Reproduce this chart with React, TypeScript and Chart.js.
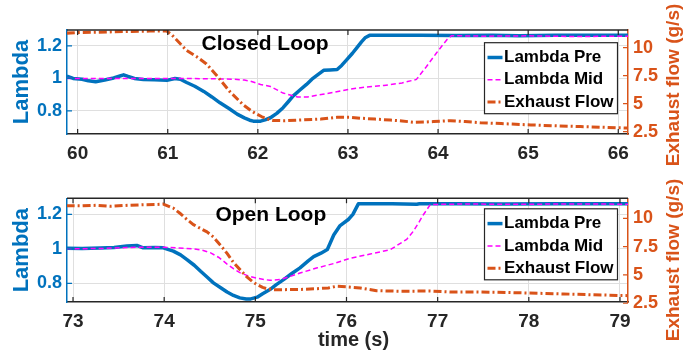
import React, { useEffect, useRef } from "react";
import { Chart, registerables } from "chart.js";

Chart.register(...registerables);

const FONT = '"Liberation Sans", Arial, Helvetica, sans-serif';
const BLUE = "#0072BD";
const ORANGE = "#D95319";
const MAGENTA = "#FF00FF";
const FRAME = "#262626";
const GRID = "#dfdfdf";

// Axis ticks
const closedTimeTicks = [60, 61, 62, 63, 64, 65, 66];
const openTimeTicks = [73, 74, 75, 76, 77, 78, 79];
const lambdaTicks = [0.8, 1, 1.2];
const flowTicks = [2.5, 5, 7.5, 10];

const seriesLabels = ["Lambda Pre", "Lambda Mid", "Exhaust Flow"];

// Closed loop run
const closedPreTime = [59.88, 59.95, 60.05, 60.12, 60.2, 60.3, 60.4, 60.47, 60.51, 60.56, 60.63, 60.73, 60.85, 60.99, 61.08, 61.14, 61.21, 61.3, 61.4, 61.49, 61.58, 61.68, 61.77, 61.85, 61.91, 61.95, 62.03, 62.08, 62.14, 62.21, 62.28, 62.34, 62.39, 62.47, 62.54, 62.6, 62.67, 62.73, 62.8, 62.88, 62.93, 62.99, 63.05, 63.1, 63.15, 63.19, 63.24, 63.5, 63.8, 64.2, 64.6, 64.9, 65.3, 65.7, 66.11];
const closedPreLambda = [1.014, 1.0, 0.995, 0.985, 0.98, 0.99, 1.003, 1.015, 1.022, 1.012, 1.0, 0.994, 0.992, 0.988, 1.0, 0.995, 0.975, 0.952, 0.92, 0.886, 0.85, 0.815, 0.78, 0.757, 0.743, 0.737, 0.737, 0.745, 0.758, 0.785, 0.82, 0.858, 0.891, 0.93, 0.963, 0.995, 1.025, 1.05, 1.052, 1.055, 1.08, 1.117, 1.155, 1.19, 1.225, 1.25, 1.265, 1.265, 1.265, 1.264, 1.265, 1.262, 1.265, 1.265, 1.265];

const closedMidTime = [59.88, 60.5, 61.0, 61.5, 61.73, 61.85, 61.92, 62.03, 62.14, 62.28, 62.44, 62.55, 62.66, 62.85, 63.03, 63.2, 63.4, 63.6, 63.76, 63.87, 63.98, 64.1, 64.15, 64.5, 65.0, 65.5, 66.11];
const closedMidLambda = [1.0, 1.0, 1.0, 0.998, 0.995, 0.99, 0.983, 0.963, 0.95, 0.91, 0.886, 0.886, 0.897, 0.915, 0.935, 0.947, 0.957, 0.972, 0.994, 1.072, 1.155, 1.24, 1.263, 1.26, 1.262, 1.258, 1.26];

const closedFlowTime = [59.88, 60.0, 60.2, 60.4, 60.6, 60.8, 60.99, 61.05, 61.1, 61.21, 61.32, 61.43, 61.55, 61.69, 61.84, 61.92, 61.98, 62.04, 62.1, 62.17, 62.3, 62.5, 62.7, 62.88, 63.03, 63.14, 63.3, 63.47, 63.6, 63.73, 63.85, 63.95, 64.14, 64.3, 64.47, 64.7, 65.03, 65.3, 65.58, 65.8, 66.11];
const closedFlow = [11.3, 11.35, 11.38, 11.42, 11.45, 11.48, 11.49, 11.1, 10.69, 9.75, 9.2, 8.55, 7.45, 6.07, 4.88, 4.4, 4.1, 3.85, 3.65, 3.5, 3.48, 3.55, 3.62, 3.78, 3.78, 3.7, 3.62, 3.54, 3.45, 3.34, 3.36, 3.4, 3.48, 3.4, 3.3, 3.22, 3.1, 3.02, 2.95, 2.9, 2.82];

// Open loop run
const openPreTime = [72.93, 73.1, 73.3, 73.45, 73.59, 73.7, 73.77, 73.9, 73.99, 74.1, 74.18, 74.25, 74.33, 74.4, 74.47, 74.54, 74.62, 74.69, 74.76, 74.83, 74.9, 74.95, 75.02, 75.08, 75.16, 75.23, 75.31, 75.4, 75.49, 75.58, 75.64, 75.72, 75.79, 75.86, 75.93, 76.02, 76.07, 76.13, 76.5, 76.77, 76.8, 77.2, 77.7, 78.3, 79.09];
const openPreLambda = [1.003, 1.002, 1.005, 1.008, 1.016, 1.02, 1.006, 1.008, 1.006, 0.987, 0.965, 0.938, 0.905, 0.87, 0.837, 0.803, 0.775, 0.75, 0.73, 0.716, 0.709, 0.71, 0.72, 0.74, 0.764, 0.793, 0.822, 0.857, 0.89, 0.93, 0.955, 0.975, 0.996, 1.08, 1.135, 1.17, 1.2, 1.261, 1.261, 1.258, 1.261, 1.261, 1.26, 1.261, 1.261];

const openMidTime = [72.93, 73.3, 73.6, 73.8, 73.99, 74.15, 74.32, 74.42, 74.51, 74.6, 74.69, 74.76, 74.83, 74.94, 75.02, 75.1, 75.16, 75.27, 75.38, 75.49, 75.68, 75.86, 76.04, 76.26, 76.48, 76.6, 76.66, 76.73, 76.79, 76.84, 76.92, 77.3, 77.8, 78.4, 79.09];
const openMidLambda = [1.0, 1.002, 1.008, 1.01, 1.01, 1.005, 1.0, 0.992, 0.977, 0.95, 0.912, 0.885, 0.862, 0.84, 0.83, 0.822, 0.818, 0.822, 0.84, 0.86, 0.89, 0.915, 0.945, 0.97, 0.995, 1.035, 1.055, 1.1, 1.15, 1.195, 1.257, 1.26, 1.258, 1.26, 1.259];

const openFlowTime = [72.93, 73.1, 73.25, 73.41, 73.6, 73.77, 73.9, 73.99, 74.1, 74.18, 74.25, 74.32, 74.4, 74.47, 74.54, 74.62, 74.69, 74.76, 74.84, 74.91, 74.97, 75.02, 75.08, 75.13, 75.2, 75.31, 75.5, 75.68, 75.8, 75.89, 76.0, 76.15, 76.33, 76.59, 76.92, 77.14, 77.4, 77.65, 78.0, 78.38, 78.7, 79.09];
const openFlow = [11.11, 11.1, 11.15, 11.06, 11.15, 11.2, 11.22, 11.26, 10.9, 10.4, 9.9, 9.45, 9.1, 8.8, 8.35, 7.6, 6.9, 6.1, 5.4, 4.8, 4.4, 4.14, 3.9, 3.78, 3.7, 3.7, 3.72, 3.79, 3.85, 4.0, 3.95, 3.85, 3.61, 3.56, 3.58, 3.5, 3.5, 3.47, 3.4, 3.32, 3.25, 3.17];

type Pt = { x: number; y: number };
const zip = (t: number[], v: number[]): Pt[] => t.map((x, i) => ({ x, y: v[i] }));

type Panel = {
  title: string;
  titleX: number;
  titleY: number;
  xTitle: string;
  xMin: number;
  xMax: number;
  xTicks: number[];
  lambdaMin: number;
  lambdaMax: number;
  flowMin: number;
  flowMax: number;
  pre: Pt[];
  mid: Pt[];
  flow: Pt[];
  padTop: number;
  xAxisHeight: number;
  legendTop: number;
};

const closedPanel: Panel = {
  title: "Closed Loop",
  titleX: 62.08,
  titleY: 1.212,
  xTitle: "",
  xMin: 59.882,
  xMax: 66.108,
  xTicks: closedTimeTicks,
  lambdaMin: 0.658,
  lambdaMax: 1.298,
  flowMin: 2.29,
  flowMax: 11.58,
  pre: zip(closedPreTime, closedPreLambda),
  mid: zip(closedMidTime, closedMidLambda),
  flow: zip(closedFlowTime, closedFlow),
  padTop: 30,
  xAxisHeight: 41,
  legendTop: 12.7,
};

const openPanel: Panel = {
  title: "Open Loop",
  titleX: 75.17,
  titleY: 1.196,
  xTitle: "time (s)",
  xMin: 72.934,
  xMax: 79.088,
  xTicks: openTimeTicks,
  lambdaMin: 0.692,
  lambdaMax: 1.293,
  flowMin: 2.61,
  flowMax: 11.77,
  pre: zip(openPreTime, openPreLambda),
  mid: zip(openMidTime, openMidLambda),
  flow: zip(openFlowTime, openFlow),
  padTop: 23.3,
  xAxisHeight: 56,
  legendTop: 10.5,
};

// Frame edge, inward tick marks, axis titles, panel title and the boxed legend
const panelDecor = {
  id: "panelDecor",
  afterDraw(chart: any, _args: any, o: any) {
    const { ctx, chartArea: a, scales } = chart;
    const sx = scales.x;
    const sl = scales.yL;
    const sr = scales.yR;
    ctx.save();

    ctx.lineWidth = 1.5;
    ctx.strokeStyle = FRAME;
    ctx.beginPath();
    ctx.moveTo(a.left, a.top);
    ctx.lineTo(a.right, a.top);
    ctx.stroke();

    const TL = 5;
    ctx.lineWidth = 1.2;
    ctx.beginPath();
    sx.ticks.forEach((t: any) => {
      const px = sx.getPixelForValue(t.value);
      ctx.moveTo(px, a.bottom);
      ctx.lineTo(px, a.bottom - TL);
      ctx.moveTo(px, a.top);
      ctx.lineTo(px, a.top + TL);
    });
    ctx.stroke();
    ctx.strokeStyle = BLUE;
    ctx.beginPath();
    sl.ticks.forEach((t: any) => {
      const py = sl.getPixelForValue(t.value);
      ctx.moveTo(a.left, py);
      ctx.lineTo(a.left + TL, py);
    });
    ctx.stroke();
    ctx.strokeStyle = ORANGE;
    ctx.beginPath();
    sr.ticks.forEach((t: any) => {
      const py = sr.getPixelForValue(t.value);
      ctx.moveTo(a.right, py);
      ctx.lineTo(a.right - TL, py);
    });
    ctx.stroke();

    // panel title
    ctx.fillStyle = "#000";
    ctx.font = `bold 21px ${FONT}`;
    ctx.textAlign = "center";
    ctx.textBaseline = "middle";
    ctx.fillText(o.title, sx.getPixelForValue(o.titleX), sl.getPixelForValue(o.titleY));

    // left axis title
    ctx.save();
    ctx.translate(21.7, (a.top + a.bottom) / 2);
    ctx.rotate(-Math.PI / 2);
    ctx.fillStyle = BLUE;
    ctx.font = `bold 22px ${FONT}`;
    ctx.fillText("Lambda", 0, 0);
    ctx.restore();

    // right axis title
    ctx.save();
    ctx.translate(674, 85);
    ctx.rotate(-Math.PI / 2);
    ctx.fillStyle = ORANGE;
    ctx.font = `bold 19px ${FONT}`;
    ctx.fillText("Exhaust flow (g/s)", 0, 0);
    ctx.restore();

    if (o.xTitle) {
      ctx.fillStyle = FRAME;
      ctx.font = `bold 20px ${FONT}`;
      ctx.fillText(o.xTitle, (a.left + a.right) / 2 + 6, a.bottom + 38);
    }

    // legend
    const LW = 133;
    const LH = 71;
    const lx = a.right - 10.5 - LW;
    const ly = a.top + o.legendTop;
    ctx.fillStyle = "#fff";
    ctx.fillRect(lx, ly, LW, LH);
    ctx.strokeStyle = FRAME;
    ctx.lineWidth = 1.2;
    ctx.setLineDash([]);
    ctx.strokeRect(lx, ly, LW, LH);
    ctx.font = `bold 17px ${FONT}`;
    ctx.textAlign = "left";
    chart.data.datasets.forEach((ds: any, i: number) => {
      const cy = ly + 14.8 + i * 22.3;
      ctx.strokeStyle = ds.borderColor;
      ctx.lineWidth = ds.borderWidth;
      ctx.setLineDash(ds.borderDash || []);
      ctx.beginPath();
      ctx.moveTo(lx + 3, cy);
      ctx.lineTo(lx + 18, cy);
      ctx.stroke();
      ctx.setLineDash([]);
      ctx.fillStyle = "#000";
      ctx.fillText(ds.label, lx + 19.5, cy);
    });

    ctx.restore();
  },
};

function buildChart(canvas: HTMLCanvasElement, p: Panel) {
  const fixTicks = (values: number[]) => (scale: any) => {
    scale.ticks = values.map((value) => ({ value }));
  };
  const tickFont = (size: number) => ({ family: FONT, size, weight: "bold" as const });
  return new Chart(canvas, {
    type: "line",
    data: {
      datasets: [
        { label: seriesLabels[0], data: p.pre, yAxisID: "yL", borderColor: BLUE, borderWidth: 3.5, pointRadius: 0, tension: 0, borderJoinStyle: "round", order: 3 },
        { label: seriesLabels[1], data: p.mid, yAxisID: "yL", borderColor: MAGENTA, borderWidth: 1.5, borderDash: [5, 3], pointRadius: 0, tension: 0, order: 2 },
        { label: seriesLabels[2], data: p.flow, yAxisID: "yR", borderColor: ORANGE, borderWidth: 3, borderDash: [8, 3, 2, 3], pointRadius: 0, tension: 0, borderJoinStyle: "round", order: 1 },
      ],
    },
    options: {
      animation: false,
      responsive: false,
      maintainAspectRatio: false,
      devicePixelRatio: 1,
      events: [],
      layout: { padding: { top: p.padTop, left: 0, right: 0, bottom: 0 } },
      plugins: {
        legend: { display: false },
        tooltip: { enabled: false },
        panelDecor: { title: p.title, titleX: p.titleX, titleY: p.titleY, xTitle: p.xTitle, legendTop: p.legendTop },
      } as any,
      scales: {
        x: {
          type: "linear",
          position: "bottom",
          min: p.xMin,
          max: p.xMax,
          afterBuildTicks: fixTicks(p.xTicks),
          afterFit: (s: any) => {
            s.height = p.xAxisHeight;
          },
          grid: { color: GRID, lineWidth: 1, drawTicks: false },
          border: { color: FRAME, width: 1.5 },
          ticks: { color: FRAME, autoSkip: false, maxRotation: 0, padding: 8, font: tickFont(19), callback: (v: any) => String(v) },
        },
        yL: {
          type: "linear",
          position: "left",
          min: p.lambdaMin,
          max: p.lambdaMax,
          afterBuildTicks: fixTicks(lambdaTicks),
          afterFit: (s: any) => {
            s.width = 67;
          },
          grid: { color: GRID, lineWidth: 1, drawTicks: false },
          border: { color: BLUE, width: 1.5 },
          ticks: { color: BLUE, padding: 5, font: tickFont(18), callback: (v: any) => String(v) },
        },
        yR: {
          type: "linear",
          position: "right",
          min: p.flowMin,
          max: p.flowMax,
          afterBuildTicks: fixTicks(flowTicks),
          afterFit: (s: any) => {
            s.width = 71;
          },
          grid: { display: false, drawTicks: false },
          border: { color: ORANGE, width: 1.5 },
          ticks: { color: ORANGE, padding: 5, font: tickFont(18), callback: (v: any) => String(v) },
        },
      },
    } as any,
    plugins: [panelDecor as any],
  });
}

export default function App() {
  const topRef = useRef<HTMLCanvasElement | null>(null);
  const bottomRef = useRef<HTMLCanvasElement | null>(null);

  useEffect(() => {
    const charts: Chart[] = [];
    if (topRef.current) charts.push(buildChart(topRef.current, closedPanel));
    if (bottomRef.current) charts.push(buildChart(bottomRef.current, openPanel));
    return () => charts.forEach((c) => c.destroy());
  }, []);

  return (
    <div style={{ position: "absolute", left: 0, top: 0, width: 699, height: 358, background: "#fff" }}>
      <canvas ref={topRef} width={699} height={175} style={{ position: "absolute", left: 0, top: 0, width: 699, height: 175 }} />
      <canvas ref={bottomRef} width={699} height={183} style={{ position: "absolute", left: 0, top: 175, width: 699, height: 183 }} />
    </div>
  );
}
